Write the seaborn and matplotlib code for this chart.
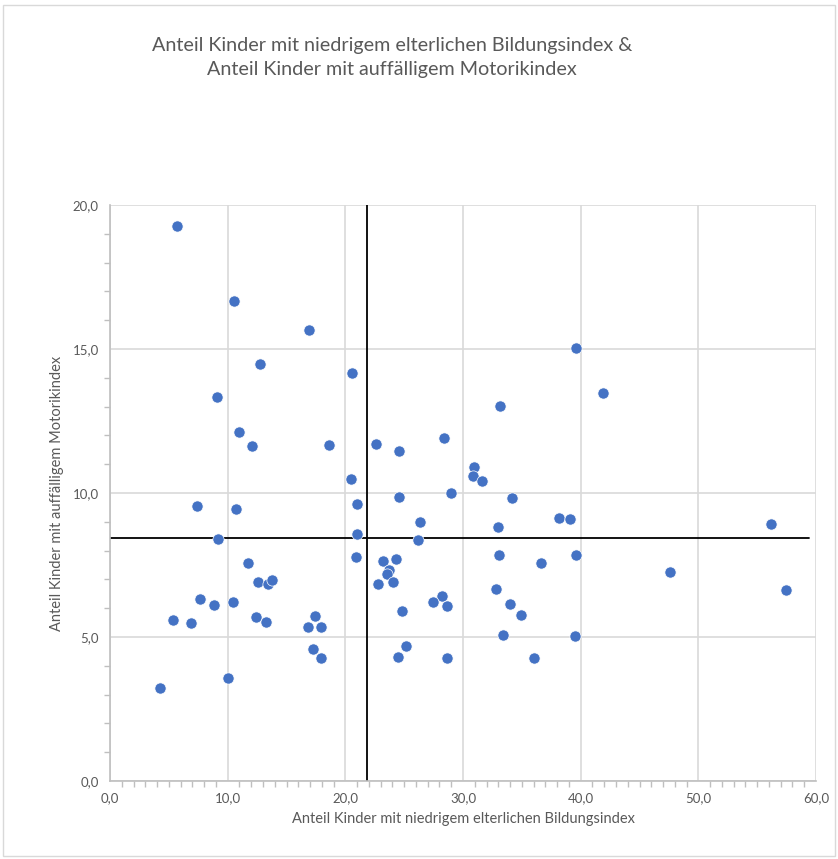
import matplotlib
matplotlib.use("Agg")
import matplotlib.pyplot as plt
import seaborn as sns
import pandas as pd
from matplotlib.ticker import MultipleLocator, FuncFormatter
from matplotlib.patches import Rectangle

bildung = [5.70, 10.58, 16.94, 12.74, 20.57, 9.13, 10.98, 12.06, 18.61, 20.45,
           7.40, 10.75, 9.19, 21.0, 21.0, 20.88, 11.69, 12.60, 13.42, 13.81,
           7.66, 8.82, 10.44, 5.39, 6.87, 12.37, 13.22, 17.42, 16.85, 17.96,
           17.25, 17.90, 10.07, 4.28,
           33.16, 22.58, 24.54, 28.37, 30.95, 30.84, 31.60, 24.54, 28.94, 34.18,
           26.33, 32.96, 38.16, 39.06, 26.21, 33.02, 39.57, 23.23, 24.34, 23.69,
           23.52, 22.78, 24.03, 36.65, 32.77, 28.23, 27.46, 28.68, 24.85, 34.02,
           34.92, 33.42, 39.52, 25.19, 24.45, 28.6, 36.0,
           39.63, 41.9, 56.17, 47.55, 57.45]
motorik = [19.26, 16.67, 15.66, 14.49, 14.18, 13.34, 12.11, 11.63, 11.66, 10.48,
           9.54, 9.46, 8.40, 9.62, 8.58, 7.77, 7.58, 6.92, 6.85, 6.98,
           6.33, 6.10, 6.23, 5.59, 5.49, 5.71, 5.51, 5.73, 5.36, 5.36,
           4.58, 4.27, 3.58, 3.24,
           13.03, 11.69, 11.47, 11.92, 10.91, 10.59, 10.42, 9.86, 9.99, 9.83,
           8.98, 8.83, 9.14, 9.09, 8.37, 7.85, 7.85, 7.65, 7.71, 7.33,
           7.18, 6.84, 6.92, 7.58, 6.68, 6.42, 6.23, 6.07, 5.91, 6.15,
           5.75, 5.06, 5.03, 4.70, 4.29, 4.27, 4.27,
           15.02, 13.46, 8.91, 7.27, 6.63]

ref_x = 21.87      # vertical reference line (Bildungsindex)
ref_y = 8.44       # horizontal reference line (Motorikindex)
ref_x_span = [0.0, 20.0]
ref_y_span = [0.0, 59.4]

xlabel = "Anteil Kinder mit niedrigem elterlichen Bildungsindex"
ylabel = "Anteil Kinder mit auffälligem Motorikindex"
title = "Anteil Kinder mit niedrigem elterlichen Bildungsindex &\nAnteil Kinder mit auffälligem Motorikindex"

df = pd.DataFrame({"x": bildung, "y": motorik})

sns.set_theme(style="white")
plt.rcParams["font.family"] = ["Lato", "DejaVu Sans"]

fig = plt.figure(figsize=(8.38, 8.59), dpi=100)
ax = fig.add_axes([110/838, 1-781/859, (816-110)/838, (781-205)/859])

grey_text = "#595959"
grid_c = "#d9d9d9"

sns.scatterplot(data=df, x="x", y="y", ax=ax, color="#4472C4", s=65,
                edgecolor="white", linewidth=0.5, zorder=3)

ax.plot([ref_x, ref_x], ref_x_span, color="black", lw=1.3, zorder=2)
ax.plot(ref_y_span, [ref_y, ref_y], color="black", lw=1.3, zorder=2)

ax.set_xlim(0, 60)
ax.set_ylim(0, 20)
ax.xaxis.set_major_locator(MultipleLocator(10))
ax.yaxis.set_major_locator(MultipleLocator(5))
ax.xaxis.set_minor_locator(MultipleLocator(1))
ax.yaxis.set_minor_locator(MultipleLocator(1))
fmt = FuncFormatter(lambda v, p: f"{v:.1f}".replace(".", ","))
ax.xaxis.set_major_formatter(fmt)
ax.yaxis.set_major_formatter(fmt)

ax.grid(True, which="major", color=grid_c, lw=1.2, zorder=0)
ax.set_axisbelow(True)
for s in ["top", "right"]:
    ax.spines[s].set_visible(False)
for s in ["left", "bottom"]:
    ax.spines[s].set_color("#bfbfbf")
    ax.spines[s].set_linewidth(1.2)

ax.tick_params(axis="both", which="minor", length=4, color="#bfbfbf",
               width=1, direction="out")
ax.tick_params(axis="both", which="both", bottom=True, left=True)
ax.tick_params(axis="both", which="major", length=0, labelsize=9.5,
               labelcolor=grey_text, pad=8)

ax.set_xlabel(xlabel, fontsize=10.5, color=grey_text, labelpad=6)
ax.set_ylabel(ylabel, fontsize=10.5, color=grey_text, labelpad=6)

fig.text(392/838, 1-58/859, title, ha="center", va="center",
         fontsize=14.2, color=grey_text, linespacing=1.5)

fig.patches.append(Rectangle((3/838, 3/859), 1-6/838, 1-8/859,
                             transform=fig.transFigure, fill=False,
                             edgecolor="#d9d9d9", lw=1))

fig.savefig("out.png", dpi=100)
